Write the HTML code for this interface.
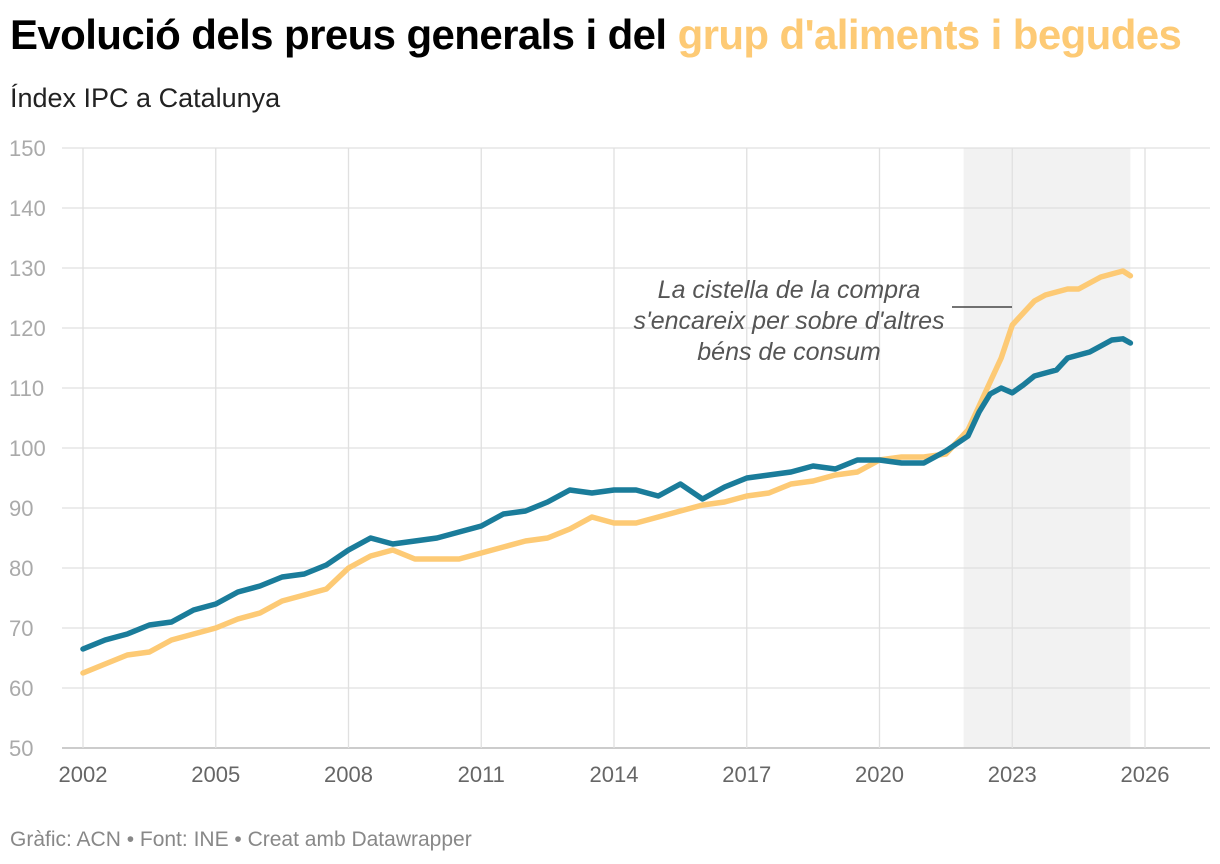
<!DOCTYPE html>
<html><head><meta charset="utf-8">
<style>
body{margin:0;background:#fff;width:1220px;height:864px;overflow:hidden;font-family:"Liberation Sans",sans-serif;}
#title{position:absolute;left:10px;top:11px;font-size:42px;font-weight:bold;color:#000;white-space:nowrap;letter-spacing:-0.6px;}
#title span{color:#fdca75}
#sub{position:absolute;left:10px;top:83px;font-size:27px;color:#222;}
#foot{position:absolute;left:10px;top:828px;font-size:21px;color:#888;}
svg{position:absolute;left:0;top:0}
</style></head><body>
<div id="title">Evolució dels preus generals i del <span>grup d'aliments i begudes</span></div>
<div id="sub">Índex IPC a Catalunya</div>
<div id="foot">Gràfic: ACN • Font: INE • Creat amb Datawrapper</div>
<svg id="c" width="1220" height="864"></svg>
<script>
const yTicks=[50,60,70,80,90,100,110,120,130,140,150];
const xTicks=[2002,2005,2008,2011,2014,2017,2020,2023,2026];
const dates=[2002,2002.5,2003,2003.5,2004,2004.5,2005,2005.5,2006,2006.5,2007,2007.5,2008,2008.5,2009,2009.5,2010,2010.5,2011,2011.5,2012,2012.5,2013,2013.5,2014,2014.5,2015,2015.5,2016,2016.5,2017,2017.5,2018,2018.5,2019,2019.5,2020,2020.5,2021,2021.5,2022,2022.25,2022.5,2022.75,2023,2023.25,2023.5,2023.75,2024,2024.25,2024.5,2024.75,2025,2025.25,2025.5,2025.67];
const general=[66.5,68,69,70.5,71,73,74,76,77,78.5,79,80.5,83,85,84,84.5,85,86,87,89,89.5,91,93,92.5,93,93,92,94,91.5,93.5,95,95.5,96,97,96.5,98,98,97.5,97.5,99.5,102,106,109,110,109.2,110.5,112,112.5,113,115,115.5,116,117,118,118.2,117.5];
const food=[62.5,64,65.5,66,68,69,70,71.5,72.5,74.5,75.5,76.5,80,82,83,81.5,81.5,81.5,82.5,83.5,84.5,85,86.5,88.5,87.5,87.5,88.5,89.5,90.5,91,92,92.5,94,94.5,95.5,96,98,98.5,98.5,99,103,107,111,115,120.5,122.5,124.5,125.5,126,126.5,126.5,127.5,128.5,129,129.5,128.7];
const shade=[2021.9,2025.67];
const X=v=>83+(v-2002)*(1145-83)/24;
const Y=v=>748-(v-50)*6;
const svg=document.getElementById('c');const NS='http://www.w3.org/2000/svg';
function mk(t,a,txt){const e=document.createElementNS(NS,t);for(const k in a)e.setAttribute(k,a[k]);if(txt!=null)e.textContent=txt;svg.appendChild(e);return e;}
let r=mk('rect',{x:X(shade[0]),y:Y(150),width:X(shade[1])-X(shade[0]),height:Y(50)-Y(150),fill:'#f2f2f2'});


yTicks.forEach(v=>{
 let l=mk('line',{x1:62,x2:1210,y1:Y(v),y2:Y(v),stroke:v==50?'#bbb':'#e0e0e0','stroke-width':v==50?1.5:1.3});
 
 
 let t=mk('text',{x:9,y:Y(v)+8,'font-size':22,fill:'#aaa'},v);
 
 
});
xTicks.forEach(v=>{
 let l=mk('line',{x1:X(v),x2:X(v),y1:Y(150),y2:Y(50),stroke:'#e0e0e0','stroke-width':1.3});
 
 
 let t=mk('text',{x:X(v),y:782,'font-size':22,fill:'#666','text-anchor':'middle'},v);
 
 
});
function line(arr,col,name){
 const d=arr.map((v,i)=>(i?'L':'M')+X(dates[i]).toFixed(1)+','+Y(v).toFixed(1)).join('');
 let p=mk('path',{d:d,fill:'none',stroke:col,'stroke-width':5.5,'stroke-linejoin':'round','stroke-linecap':'round'});
 
 
}
line(food,'#fdca75','food-price-line');
line(general,'#1a7c9a','general-price-line');
let al=mk('line',{x1:952,x2:1012,y1:307,y2:307,stroke:'#222','stroke-width':1.3});


[['La cistella de la compra',298],["s'encareix per sobre d'altres",329],['béns de consum',360]].forEach(([s,y])=>{
 let t=mk('text',{x:789,y:y,'font-size':25,'font-style':'italic',fill:'#555','text-anchor':'middle'},s);
 
 
});
</script>
</body></html>
